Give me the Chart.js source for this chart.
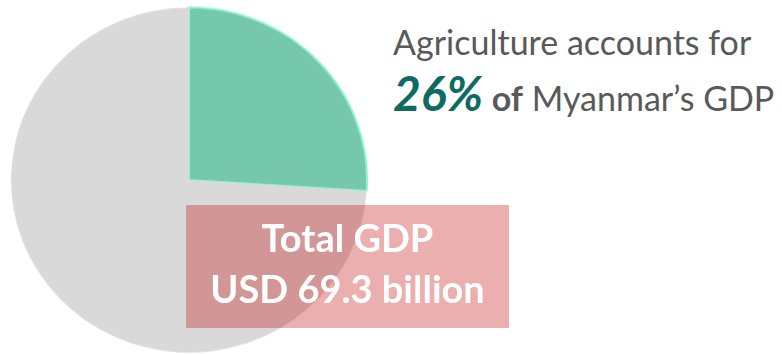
<!DOCTYPE html>
<html>
<head>
<meta charset="utf-8">
<script src="https://cdn.jsdelivr.net/npm/chart.js@4.4.1/dist/chart.umd.min.js"></script>
<style>
  html, body { margin: 0; padding: 0; background: #fff; }
  body { width: 782px; height: 354px; position: relative; overflow: hidden; font-family: Lato, 'Open Sans', sans-serif; }
  #pieWrap { position: absolute; left: 13px; top: 4px; width: 352px; height: 352px; transform: scale(1.017, 0.986); }
  .headline { position: absolute; left: 393px; color: #595959; white-space: nowrap; line-height: 1; }
  #line1 { top: 25px; font-size: 34px; }
  #line2 { top: 69px; font-size: 34px; }
  #line2 .pct { color: #0d6b62; font-weight: 700; font-style: italic; font-size: 48px; }
  #line2 .of { font-weight: 700; }
  #totalBox { position: absolute; left: 186px; top: 205px; width: 323px; height: 123px;
    background: rgba(196, 20, 20, 0.34); color: #fff; font-weight: 700; font-size: 38px;
    text-align: center; line-height: 51px; padding-top: 7px; box-sizing: border-box; }
</style>
</head>
<body>
<div id="pieWrap"><canvas id="pie"></canvas></div>
<div class="headline" id="line1"></div>
<div class="headline" id="line2"></div>
<div id="totalBox"></div>
<script>
// GDP split by sector (percent)
const sectors = ['Agriculture', 'Other sectors'];
const shares = [26, 74];
const sectorColors = ['#76c8ad', '#d9d9d9'];
const totalGdpBillion = 69.3;
const country = 'Myanmar';

document.getElementById('line1').textContent = sectors[0] + ' accounts for';
document.getElementById('line2').innerHTML =
  '<span class="pct">' + shares[0] + '%</span> <span class="of">of</span> ' + country + '\u2019s GDP';
document.getElementById('totalBox').innerHTML = 'Total GDP<br>USD ' + totalGdpBillion + ' billion';

const ctx = document.getElementById('pie').getContext('2d');
new Chart(ctx, {
  type: 'pie',
  data: {
    labels: sectors,
    datasets: [{
      data: shares,
      backgroundColor: sectorColors,
      borderColor: ['#8ff2d2', '#d9d9d9'],
      borderWidth: [2, 0],
    }],
  },
  options: {
    responsive: true,
    maintainAspectRatio: false,
    animation: false,
    events: [],
    plugins: {
      legend: { display: false },
      tooltip: { enabled: false },
    },
  },
});
</script>
</body>
</html>
